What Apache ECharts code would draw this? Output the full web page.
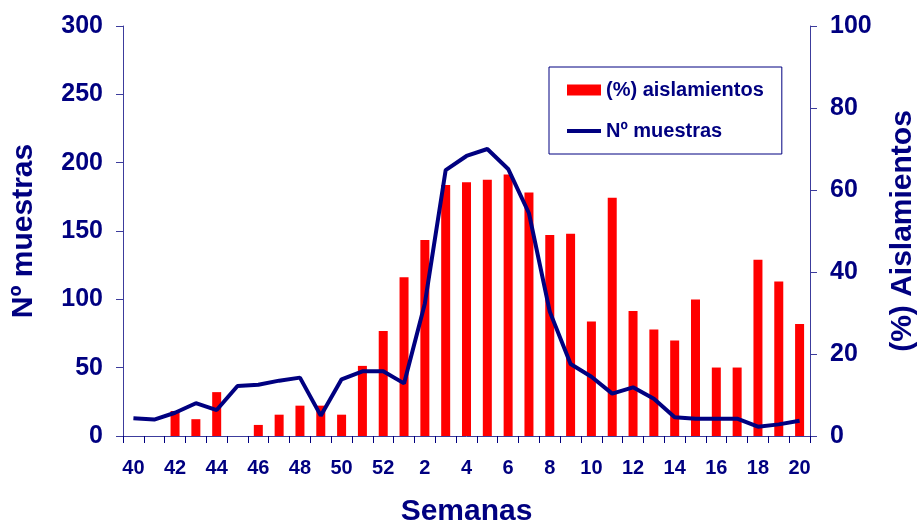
<!DOCTYPE html>
<html>
<head>
<meta charset="utf-8">
<script src="https://cdn.jsdelivr.net/npm/echarts@6/dist/echarts.min.js"></script>
<style>
  html, body { margin: 0; padding: 0; background: #fff; }
  #chart { width: 920px; height: 525px; }
</style>
</head>
<body>
<div id="chart"></div>
<script>
// semanas 40-52 y 1-20
const semanas = ["40","41","42","43","44","45","46","47","48","49","50","51","52",
  "1","2","3","4","5","6","7","8","9","10","11","12","13","14","15","16","17","18","19","20"];

// (%) aislamientos, eje derecho
const aislamientos = [0, 0, 6.1, 4.1, 10.7, 0, 2.7, 5.2, 7.4, 7.4, 5.2, 17.1, 25.6,
  38.7, 47.8, 61.2, 61.9, 62.5, 63.8, 59.4, 49.0, 49.3, 27.9, 58.1, 30.5, 26.0, 23.3,
  33.3, 16.7, 16.7, 43.0, 37.7, 27.3];

// Nº muestras, eje izquierdo
const muestras = [13, 12, 17, 24, 19, 36.6, 37.5, 40.5, 42.7, 14.9, 41.5, 47.3, 47.3,
  38.5, 97, 194.6, 204.9, 210, 195.4, 163, 91, 52.7, 43.4, 31, 35.6, 27.3, 13.7,
  12.7, 12.7, 12.7, 6.8, 8.5, 11.2];

const navy = "#000080";
const axisCol = "#3c3c9c";
const fontFam = "Liberation Sans, Arial, sans-serif";

const chart = echarts.init(document.getElementById("chart"));

const nameStyle = { color: navy, fontSize: 30, fontWeight: "bold", fontFamily: fontFam };

const option = {
  animation: false,
  backgroundColor: "#fff",
  textStyle: { fontFamily: fontFam },
  grid: { left: 123, right: 110, top: 26, bottom: 89, containLabel: false, outerBoundsMode: "none" },
  legend: {
    orient: "vertical",
    left: 549,
    top: 67,
    padding: [13, 18, 13, 18],
    itemGap: 21,
    itemWidth: 34,
    itemHeight: 11,
    borderColor: navy,
    borderWidth: 1,
    textStyle: { color: navy, fontSize: 20, fontWeight: "bold", fontFamily: fontFam },
    data: [
      { name: "(%) aislamientos", icon: "rect" },
      { name: "Nº muestras", icon: "path://M0,0 H34 V4 H0 Z" }
    ]
  },
  xAxis: {
    type: "category",
    data: semanas,
    name: "Semanas",
    nameLocation: "middle",
    nameGap: 61,
    nameTextStyle: nameStyle,
    axisLine: { lineStyle: { color: axisCol, width: 1 } },
    axisTick: { show: true, interval: 0, length: 7, lineStyle: { color: navy, width: 1 } },
    axisLabel: { interval: 1, color: navy, fontSize: 20, fontWeight: "bold", margin: 22 }
  },
  yAxis: [
    {
      type: "value",
      min: 0, max: 300, interval: 50,
      name: "Nº muestras",
      nameLocation: "middle",
      nameRotate: 90,
      nameGap: 84,
      nameTextStyle: nameStyle,
      axisLine: { show: true, lineStyle: { color: axisCol, width: 1 } },
      axisTick: { show: true, length: 7, lineStyle: { color: axisCol } },
      axisLabel: { color: navy, fontSize: 25, fontWeight: "bold", margin: 20 },
      splitLine: { show: false }
    },
    {
      type: "value",
      min: 0, max: 100, interval: 20,
      name: "(%) Aislamientos",
      nameLocation: "middle",
      nameRotate: 90,
      nameGap: 78,
      nameTextStyle: nameStyle,
      axisLine: { show: true, lineStyle: { color: axisCol, width: 1 } },
      axisTick: { show: true, length: 7, lineStyle: { color: axisCol } },
      axisLabel: { color: navy, fontSize: 25, fontWeight: "bold", margin: 20 },
      splitLine: { show: false }
    }
  ],
  series: [
    {
      name: "(%) aislamientos",
      type: "bar",
      yAxisIndex: 1,
      data: aislamientos,
      barWidth: 9,
      itemStyle: { color: "#ff0000" }
    },
    {
      name: "Nº muestras",
      type: "line",
      yAxisIndex: 0,
      data: muestras,
      symbol: "none",
      lineStyle: { color: navy, width: 4 },
      itemStyle: { color: navy }
    }
  ]
};

chart.setOption(option);
</script>
</body>
</html>
